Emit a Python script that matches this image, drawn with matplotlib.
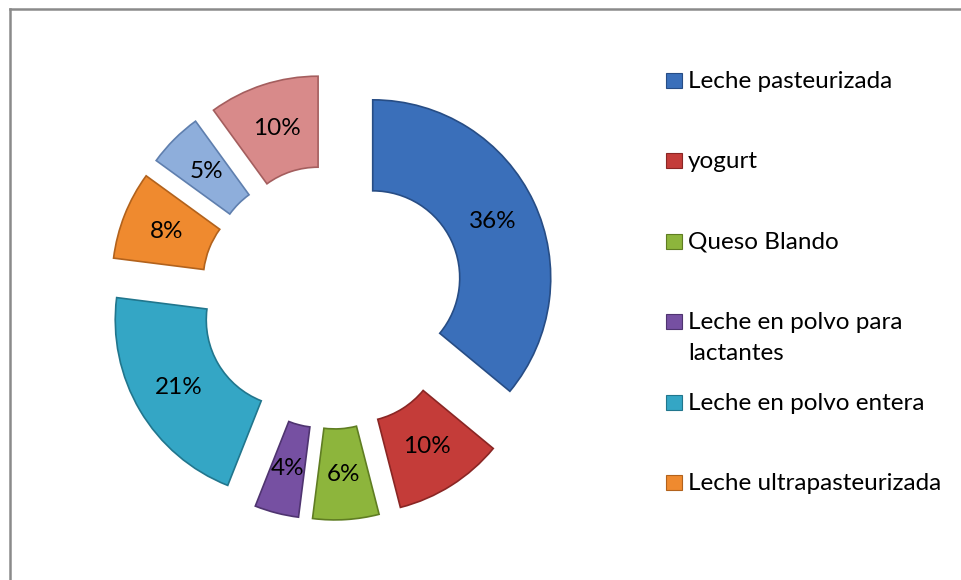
import matplotlib
matplotlib.use("Agg")
from matplotlib import pyplot as plt
from matplotlib.patches import Rectangle
from matplotlib.lines import Line2D
import numpy as np

# Datos del gráfico
categorias = ['Leche pasteurizada', 'yogurt', 'Queso Blando',
              'Leche en polvo para\nlactantes', 'Leche en polvo entera',
              'Leche ultrapasteurizada', 'Otros 1', 'Otros 2']
porcentajes = [36, 10, 6, 4, 21, 8, 5, 10]
colores = ['#3A6FBA', '#C43C39', '#8DB53C', '#7650A2',
           '#34A6C5', '#EF8A2F', '#8EAEDB', '#D88A8A']
n_leyenda = 6  # la leyenda original solo muestra seis entradas

plt.rcParams['font.family'] = ['Lato', 'DejaVu Sans']

W, H = 961, 580
fig = plt.figure(figsize=(W / 100, H / 100), dpi=100)
ax = fig.add_axes([0, 0, 1, 1])

R = 178
ancho = 91
bordes = ['#274d85', '#8a2624', '#5f7d22', '#4f3470', '#21768d', '#b2621c', '#5f7fae', '#a45e5e']

wedges, textos, autotextos = ax.pie(
    porcentajes, colors=colores, explode=[45] * len(porcentajes),
    center=(332, H - 297), radius=R, startangle=90, counterclock=False,
    autopct='%1.0f%%', pctdistance=(R - ancho / 2) / R,
    wedgeprops=dict(width=ancho, linewidth=1.2),
    textprops=dict(fontsize=17.5, color='black'))
for w, b in zip(wedges, bordes):
    w.set_edgecolor(b)

ax.set_xlim(0, W)
ax.set_ylim(0, H)
ax.set_aspect('equal')
ax.axis('off')

# Leyenda (a mano para alinear el cuadro con la primera línea)
for i in range(n_leyenda):
    base = 88 + 80.4 * i
    ax.add_patch(Rectangle((666, H - base), 16, 15, facecolor=colores[i],
                           edgecolor=bordes[i], linewidth=0.8))
    for j, linea in enumerate(categorias[i].split('\n')):
        ax.text(688, H - base - 31 * j, linea, fontsize=17.5,
                va='baseline', ha='left')

# Marco del área del gráfico
ax.add_line(Line2D([10, 10], [0, H - 9], color='#8a8a8a', linewidth=1.8))
ax.add_line(Line2D([10, W], [H - 9, H - 9], color='#8a8a8a', linewidth=1.8))

fig.savefig('out.png', dpi=100)
